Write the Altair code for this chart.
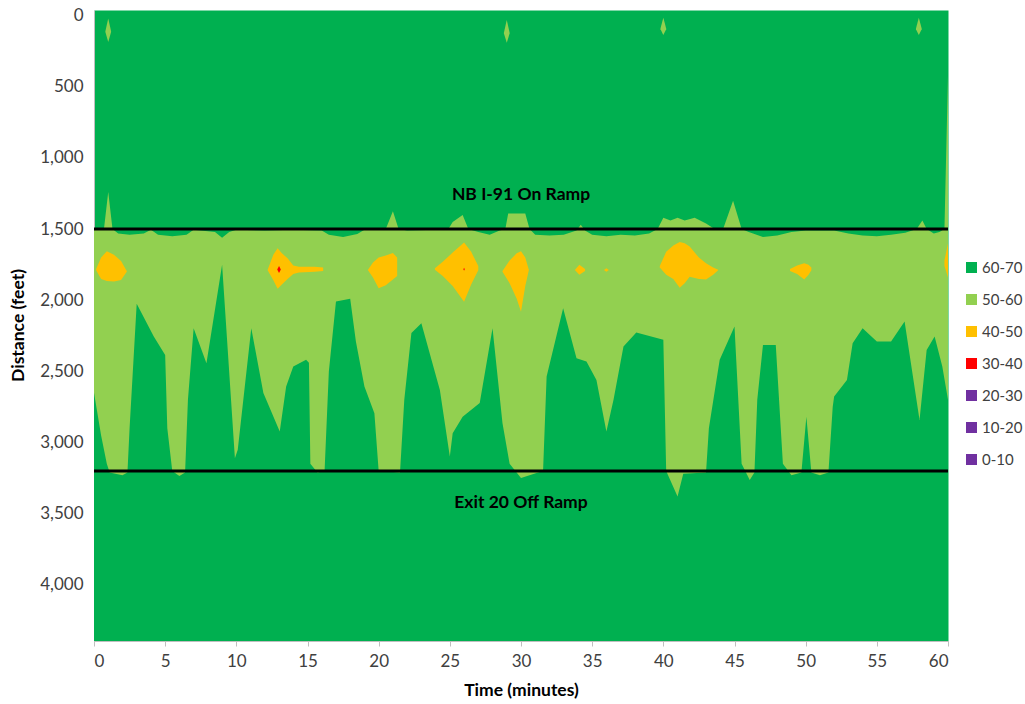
import altair as alt
import pandas as pd

# ---------------- data ----------------
# upper boundary of the 50-60 band (distance in ft) over time (minutes)
TOP_T = [0, 0.7, 1.0, 1.3, 1.7, 2.5, 3.5, 4.0, 4.5, 5.5, 6.5, 7.0, 8.5, 9.0, 9.5,
         10.0, 12.0, 14.0, 16.0, 16.5, 17.5, 18.5, 19.0, 20.5, 21.0, 21.4, 22.0, 24.0,
         24.9, 25.2, 25.9, 26.3, 27.0, 27.8, 28.5, 28.9, 29.1, 30.3, 30.6, 31.0, 32.0,
         33.0, 33.9, 34.2, 34.5, 35.0, 36.0, 37.0, 38.0, 39.0, 39.6, 40.0, 40.5, 41.0,
         41.5, 42.2, 43.0, 43.6, 44.2, 44.9, 45.5, 46.0, 47.0, 48.0, 49.0, 50.0, 52.0,
         53.0, 54.0, 55.0, 56.0, 57.0, 57.8, 58.2, 58.5, 59.0, 59.4, 59.75, 60.0]
TOP_D = [1500, 1500, 1240, 1500, 1530, 1540, 1530, 1505, 1540, 1550, 1540, 1505, 1520, 1560, 1520,
         1505, 1510, 1505, 1510, 1540, 1555, 1535, 1505, 1500, 1375, 1500, 1510, 1505,
         1500, 1450, 1400, 1500, 1520, 1540, 1510, 1500, 1390, 1390, 1500, 1540, 1545,
         1540, 1510, 1470, 1510, 1540, 1550, 1540, 1545, 1530, 1500, 1420, 1440, 1420,
         1440, 1420, 1460, 1500, 1500, 1300, 1500, 1520, 1555, 1545, 1520, 1510, 1510,
         1530, 1545, 1550, 1540, 1525, 1500, 1440, 1500, 1530, 1520, 1500, 420]

# upper edge of the lower 60-70 region
BOT_T = [0, 0.5, 0.9, 1.1, 2.0, 2.35, 2.5, 3.0, 4.2, 5.0, 5.15, 5.5, 6.0, 6.4, 6.6,
         7.0, 7.9, 9.0, 9.9, 10.1, 11.05, 11.9, 13.05, 13.5, 14.0, 14.9, 15.1, 15.2, 15.7,
         16.2, 16.5, 17.0, 18.0, 18.4, 19.0, 19.7, 20.0, 21.5, 21.8, 22.3, 23.0, 24.3,
         25.0, 25.2, 25.9, 27.1, 28.0, 28.7, 29.2, 30.0, 31.2, 31.55, 31.8, 32.96, 33.9,
         34.6, 35.3, 36.0, 36.5, 37.2, 38.1, 40.0, 40.2, 41.0, 41.4, 43.0, 43.2, 43.96,
         45.0, 45.5, 46.07, 46.4, 46.6, 47.0, 47.9, 48.4, 49.0, 49.7, 50.05, 50.4, 51.0,
         51.6, 51.9, 52.0, 52.9, 53.3, 54.0, 55.0, 56.0, 56.95, 58.0, 58.5, 59.06, 59.6, 60.0]
BOT_D = [2650, 2950, 3150, 3210, 3230, 3210, 2900, 2025, 2255, 2384, 2900, 3200, 3235, 3210, 2700,
         2196, 2442, 1750, 3110, 3050, 2196, 2652, 2923, 2607, 2466, 2419, 2440, 3150, 3210,
         3200, 2500, 2009, 1990, 2290, 2607, 2794, 3200, 3210, 2700, 2231, 2161, 2631,
         3099, 2935, 2818, 2723, 2196, 2864, 3150, 3250, 3210, 3200, 2536, 2056, 2407,
         2431, 2560, 2923, 2700, 2325, 2227, 2278, 3200, 3380, 3220, 3210, 2900, 2419,
         2185, 3150, 3263, 3210, 2700, 2314, 2314, 3150, 3230, 3210, 2818, 3210, 3230,
         3210, 2750, 2677, 2560, 2302, 2196, 2290, 2290, 2150, 2841, 2349, 2255, 2466, 2700]

# isolated patches: (speed class, times, upper distance, lower distance)
PATCH_A = ("40-50", [0.15, 0.5, 0.9, 1.4, 1.9, 2.3], [1780, 1700, 1655, 1680, 1725, 1795], [1790, 1850, 1865, 1868, 1858, 1800])
PATCH_B = ("40-50", [12.2, 12.6, 12.9, 13.2, 13.6, 14.0, 14.4, 15.5, 16.1], [1785, 1680, 1635, 1670, 1705, 1755, 1765, 1765, 1770], [1790, 1860, 1920, 1890, 1850, 1815, 1805, 1800, 1795])
PATCH_C = ("40-50", [19.25, 19.6, 20.0, 20.5, 21.0, 21.3], [1785, 1735, 1700, 1685, 1668, 1700], [1790, 1840, 1915, 1895, 1855, 1830])
PATCH_D = ("40-50", [23.95, 24.5, 25.2, 26.0, 26.5, 27.0], [1775, 1730, 1665, 1595, 1660, 1760], [1785, 1830, 1900, 2010, 1890, 1790])
PATCH_E = ("40-50", [28.7, 29.2, 29.7, 30.0, 30.3, 30.55], [1795, 1720, 1670, 1655, 1700, 1785], [1800, 1880, 1990, 2080, 1900, 1790])
PATCH_F = ("40-50", [33.8, 34.1, 34.5], [1785, 1750, 1780], [1790, 1820, 1795])
PATCH_G = ("40-50", [35.85, 36.0, 36.15], [1785, 1775, 1785], [1790, 1800, 1790])
PATCH_H = ("40-50", [39.75, 40.2, 40.7, 41.15, 41.5, 41.85, 42.5, 43.0, 43.5, 43.85], [1760, 1660, 1615, 1590, 1600, 1622, 1700, 1740, 1770, 1785], [1770, 1820, 1850, 1912, 1880, 1835, 1850, 1855, 1820, 1790])
PATCH_I = ("40-50", [48.9, 49.4, 49.9, 50.2, 50.4], [1780, 1755, 1740, 1750, 1770], [1795, 1815, 1855, 1820, 1790])
PATCH_J = ("40-50", [59.75, 60.0], [1720, 1600], [1760, 1840])
PATCH_R1 = ("30-40", [12.88, 13.0, 13.12], [1782, 1760, 1782], [1786, 1808, 1786])
PATCH_R2 = ("30-40", [25.96, 26.0, 26.04], [1780, 1772, 1780], [1784, 1792, 1784])
PATCH_T1 = ("50-60", [0.8, 1.0, 1.2], [110, 20, 110], [115, 185, 115])
PATCH_T2 = ("50-60", [28.8, 29.0, 29.2], [120, 30, 120], [125, 190, 125])
PATCH_T3 = ("50-60", [39.8, 40.0, 40.2], [90, 15, 90], [95, 135, 95])
PATCH_T4 = ("50-60", [57.75, 57.95, 58.15], [90, 15, 90], [95, 135, 95])
PATCHES = [PATCH_A, PATCH_B, PATCH_C, PATCH_D, PATCH_E, PATCH_F, PATCH_G, PATCH_H,
           PATCH_I, PATCH_J, PATCH_R1, PATCH_R2, PATCH_T1, PATCH_T2, PATCH_T3, PATCH_T4]

CLASSES = ["60-70", "50-60", "40-50", "30-40", "20-30", "10-20", "0-10"]
CLASS_COLORS = ["#00B050", "#92D050", "#FFC000", "#FF0000", "#7030A0", "#7030A0", "#7030A0"]

RAMP_D = [1500, 3200]
LABEL_TEXT = ["NB I-91 On Ramp", "Exit 20 Off Ramp"]
LABEL_T = [30, 30]
LABEL_D = [1262, 3425]

X_TICKS = list(range(0, 61, 5))
Y_TICKS = list(range(0, 4001, 500))
Y_DOMAIN = [-40, 4395]
LIGHT_FLOOR = 3400

# ---------------- tables ----------------
top_df = pd.DataFrame({"t": TOP_T, "d": TOP_D})
bot_df = pd.DataFrame({"t": BOT_T, "d": BOT_D})
rows = []
for i, (cls, ts, ups, lows) in enumerate(PATCHES):
    for t, u, l in zip(ts, ups, lows):
        rows.append({"patch": i, "cls": cls, "t": t, "d": u, "d2": l})
patch_df = pd.DataFrame(rows)
ramp_df = pd.DataFrame({"d": RAMP_D})
label_df = pd.DataFrame({"t": LABEL_T, "d": LABEL_D, "text": LABEL_TEXT})

FONT = "Lato"
x_scale = alt.Scale(domain=[0, 60], nice=False, zero=False)
y_scale = alt.Scale(domain=Y_DOMAIN, reverse=True, nice=False, zero=False)

x_axis = alt.Axis(values=X_TICKS, grid=False, labelFont=FONT, labelFontSize=17,
                  labelColor="#404040", tickColor="#bfbfbf", tickSize=5,
                  domainColor="#bfbfbf", labelPadding=7,
                  titleFont=FONT, titleFontSize=17.5, titleFontWeight="bold",
                  titleColor="black", titleY=49, titleBaseline="middle")
y_axis = alt.Axis(values=Y_TICKS, format=",.0f", grid=False, ticks=False,
                  labelFont=FONT, labelFontSize=17, labelColor="#404040",
                  labelPadding=11, domainColor="#bfbfbf",
                  titleFont=FONT, titleFontSize=17.5, titleFontWeight="bold",
                  titleColor="black", titleAngle=270, titleX=-76, titleY=315,
                  titleAlign="center", titleBaseline="middle")


def X():
    return alt.X("t:Q", scale=x_scale, axis=x_axis, title="Time (minutes)")


def Y(field="d"):
    return alt.Y(f"{field}:Q", scale=y_scale, axis=y_axis, title="Distance (feet)", stack=False)


light = alt.Chart(top_df).mark_area(orient="vertical", clip=True, color="#92D050").encode(
    x=X(), y=Y(), y2=alt.datum(LIGHT_FLOOR))

dark = alt.Chart(bot_df).mark_area(orient="vertical", clip=True, color="#00B050").encode(
    x=X(), y=Y(), y2=alt.datum(Y_DOMAIN[1]))

patches = alt.Chart(patch_df).mark_area(orient="vertical", clip=True).encode(
    x=X(), y=Y(), y2="d2:Q", detail="patch:N",
    color=alt.Color("cls:N", scale=alt.Scale(domain=CLASSES, range=CLASS_COLORS),
                    title=None,
                    legend=alt.Legend(orient="none", legendX=870, legendY=250,
                                      direction="vertical", symbolType="square",
                                      symbolSize=121, symbolStrokeWidth=0,
                                      labelFont=FONT, labelFontSize=15,
                                      labelColor="#404040", rowPadding=16,
                                      labelOffset=3, padding=0)))

rules = alt.Chart(ramp_df).mark_rule(color="black", strokeWidth=3).encode(y=Y())

labels = alt.Chart(label_df).mark_text(font=FONT, fontSize=17.5, fontWeight="bold",
                                       color="black").encode(x=X(), y=Y(), text="text:N")

chart = alt.layer(light, dark, patches, rules, labels).properties(
    width=854, height=631,
    padding={"left": 94, "top": 10, "right": 77, "bottom": 63},
    autosize=alt.AutoSizeParams(type="none"),
    background="white",
).configure_view(fill="#00B050", stroke="transparent")

chart.save("out.html", embed_options={"renderer": "svg", "actions": False})
